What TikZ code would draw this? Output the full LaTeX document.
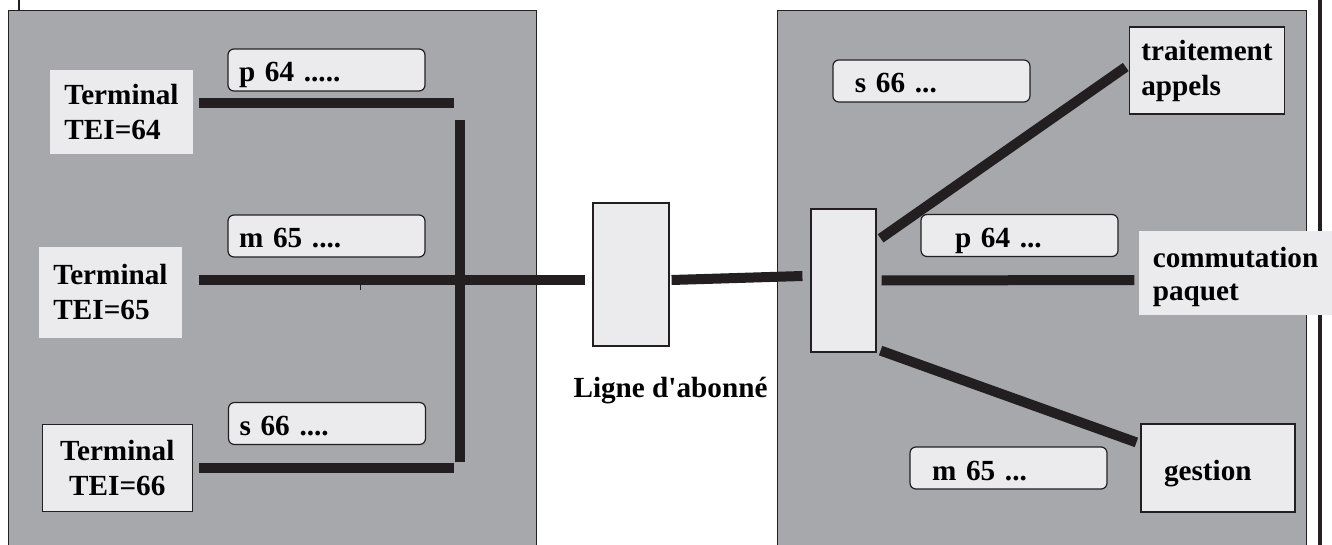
\documentclass[tikz,border=0pt]{standalone}
\usepackage{fontspec}
\setmainfont{Liberation Serif}
\definecolor{panelgray}{HTML}{A7A8AB}
\definecolor{boxgray}{HTML}{EBEBED}
\definecolor{ink}{HTML}{231F20}
\tikzset{
  panel/.style={draw=ink, line width=0.5pt, fill=panelgray},
  term/.style={fill=boxgray, align=left, inner xsep=7pt, inner ysep=0pt},
  framed/.style={draw=ink, line width=0.6pt},
  msg/.style={draw=ink, line width=0.6pt, fill=boxgray, rounded corners=3pt,
    minimum height=21pt, align=left, text height=12pt, text depth=0pt,
    inner xsep=5.5pt, inner ysep=0pt, text width=87.5pt},
  port/.style={draw=ink, line width=0.6pt, fill=boxgray, inner sep=0pt},
  wire/.style={draw=ink, line width=5pt},
}
\begin{document}
\begin{tikzpicture}[x=0.5pt, y=-0.5pt, font=\bfseries\fontsize{14.6}{17.5}\selectfont]
    \useasboundingbox (0,0) rectangle (1332,545);

    % ===== fonds =====
    \draw[panel] (8,10.7) rectangle (536,560);
    \draw[panel] (777,10.7) rectangle (1306,560);
    \draw[ink, line width=1.2pt] (19,0) -- (19,10.7);
    \draw[ink, line width=2pt] (1320,0) -- (1320,545);

    % ===== partie gauche : terminaux =====
    \node[term, minimum height=42pt] (t64) at (121.5,112) {Terminal\\TEI=64};
    \node[term, minimum height=45.5pt] (t65) at (110.5,292.5) {Terminal\\TEI=65};
    \node[term, framed, align=center, inner xsep=9pt, minimum height=43.5pt] (t66) at (117.3,468) {Terminal\\TEI=66};

    % trames (gauche)
    \node[msg] (p64l) at (326.5,70) {p 64 .....};
    \node[msg] (m65l) at (326.5,236) {m 65 ....};
    \node[msg] (s66l) at (327,423.5) {s 66 ....};

    % bus
    \coordinate (b64) at (454,103);
    \coordinate (bustop) at (460,120);
    \coordinate (busbot) at (460,462);
    \coordinate (b66) at (454,468);
    \draw[wire] ([xshift=3pt]t64.east |- b64) -- (b64);
    \draw[wire] (bustop) -- (busbot);
    \draw[wire] ([xshift=3pt]t66.east |- b66) -- (b66);
    \draw[ink, line width=0.5pt] (360,285) -- (360,290);

    % ===== ligne d'abonne =====
    \node[port, minimum width=38pt, minimum height=71.5pt] (nt) at (631,274.5) {};
    \node (lig) at (670.5,391) {Ligne d\textquotesingle abonné};
    \draw[wire] ([xshift=8.5pt,yshift=6.25pt]t65.east) -- ([xshift=-3.5pt,yshift=-2.75pt]nt.west);

    % ===== partie droite : commutateur =====
    \node[port, minimum width=32.5pt, minimum height=71.5pt] (lt) at (843.5,280.5) {};
    \draw[wire] ([xshift=1pt,yshift=-2.75pt]nt.east) -- ([xshift=-4pt,yshift=2.25pt]lt.west);

    \node[term, framed, inner xsep=6pt, minimum height=43.5pt] (trt) at (1207,70.5) {traitement\\appels};
    \node[term, minimum height=42pt, text height=27pt, text depth=0pt,
      font=\bfseries\fontsize{14.6}{16.5}\selectfont] (cp) at (1235.5,273) {commutation\\paquet};
    \node[term, framed, text width=54pt, inner xsep=11.5pt, minimum height=44pt,
      text height=12pt, text depth=0pt] (gst) at (1218,468) {gestion};

    % trames (droite)
    \node[msg, inner xsep=11pt, text width=76.5pt] (s66r) at (931.4,81) {s 66 ...};
    \node[msg, inner xsep=17pt, text width=64.5pt] (p64r) at (1019.5,235.5) {p 64 ...};
    \node[msg, inner xsep=11pt, text width=76.5pt] (m65r) at (1008.5,468) {m 65 ...};

    % liaisons
    \draw[wire] ([xshift=2pt,yshift=-15pt]lt.north east) -- ([xshift=-1.5pt,yshift=1.75pt]trt.west);
    \draw[wire] ([xshift=2.5pt]lt.east) -- ([xshift=-2pt,yshift=-3.5pt]cp.west);
    \draw[wire] ([xshift=2pt,yshift=1pt]lt.south east) -- ([xshift=-2pt,yshift=-9.5pt]gst.north west);
\end{tikzpicture}
\end{document}
